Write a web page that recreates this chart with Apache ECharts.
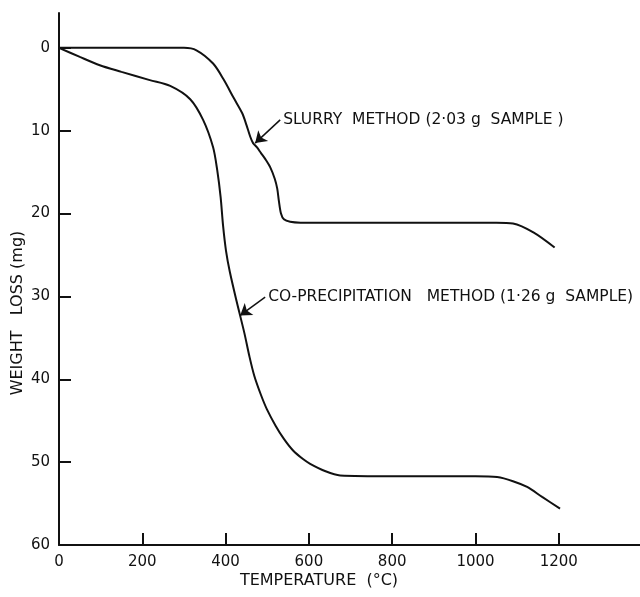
<!DOCTYPE html>
<html>
<head>
<meta charset="utf-8">
<script src="https://cdn.jsdelivr.net/npm/echarts@6/dist/echarts.min.js"></script>
<style>
    html, body { margin: 0; padding: 0; background: #fff; }
    #chart { width: 640px; height: 597px; }
</style>
</head>
<body>
<div id="chart"></div>
<script>
    var tempTicks = [0, 200, 400, 600, 800, 1000, 1200];
    var lossTicks = [0, 10, 20, 30, 40, 50, 60];

    // slurry method (2.03 g)
    var slurryTemp = [0, 100, 200, 300, 330, 370, 395, 420, 440, 450, 459, 466, 475, 485, 495, 507, 518, 524, 528, 533, 540, 555, 580, 700, 900, 1050, 1090, 1140, 1190];
    var slurryLoss = [0, 0, 0, 0, 0.3, 1.9, 3.8, 6.1, 7.9, 9.3, 10.7, 11.5, 12.0, 12.7, 13.4, 14.4, 15.8, 17.0, 18.5, 20.0, 20.7, 21.0, 21.1, 21.1, 21.1, 21.1, 21.2, 22.3, 24.1];

    // co-precipitation method (1.26 g)
    var coprecTemp = [0, 50, 98, 150, 218, 267, 315, 346, 370, 380, 388, 394, 401, 410, 426, 445, 457, 469, 485, 499, 520, 540, 562, 585, 603, 640, 675, 800, 1000, 1052, 1090, 1124, 1160, 1203];
    var coprecLoss = [0, 1.1, 2.1, 2.9, 3.9, 4.6, 6.2, 8.7, 12.0, 14.8, 18.0, 21.5, 24.5, 27.0, 30.5, 34.4, 37.2, 39.6, 41.9, 43.6, 45.6, 47.2, 48.6, 49.6, 50.2, 51.1, 51.6, 51.7, 51.7, 51.8, 52.3, 53.0, 54.2, 55.6];

    var slurryLabel = 'SLURRY  METHOD (2·03 g  SAMPLE )';
    var coprecLabel = 'CO-PRECIPITATION   METHOD (1·26 g  SAMPLE)';
    // arrow start / arrow tip (data units)
    var slurryNote = [[531, 8.7], [471, 11.5]];
    var coprecNote = [[495, 30.1], [435, 32.3]];

    var ink = '#111';
    var font = 'DejaVu Sans';

    function pairs(xs, ys) {
        var out = [];
        for (var i = 0; i < xs.length; i++) {
            out.push([xs[i], ys[i]]);
        }
        return out;
    }

    function curve(name, xs, ys, note, text) {
        return {
            name: name,
            type: 'line',
            data: pairs(xs, ys),
            smooth: 0.3,
            showSymbol: false,
            lineStyle: { color: ink, width: 2 },
            silent: true,
            markLine: {
                silent: true,
                symbol: ['none', 'arrow'],
                symbolSize: 11,
                lineStyle: { color: ink, width: 1.5, type: 'solid' },
                itemStyle: { color: ink },
                label: { show: false },
                data: [[{ coord: note[0] }, { coord: note[1] }]]
            },
            markPoint: {
                silent: true,
                symbol: 'circle',
                symbolSize: 0,
                label: {
                    show: true,
                    position: 'right',
                    distance: 3,
                    color: ink,
                    fontFamily: font,
                    fontSize: 15.5,
                    formatter: text
                },
                data: [{ coord: note[0] }]
            }
        };
    }

    var chart = echarts.init(document.getElementById('chart'));
    chart.setOption({
        animation: false,
        backgroundColor: '#fff',
        grid: { left: 59, right: 0, top: 13, bottom: 52 },
        xAxis: {
            type: 'value',
            position: 'bottom',
            min: 0,
            max: 1395,
            axisLine: { onZero: false, lineStyle: { color: ink, width: 2 } },
            axisTick: { inside: true, length: 12, customValues: tempTicks, lineStyle: { color: ink, width: 2 } },
            axisLabel: {
                customValues: tempTicks, margin: 10, color: ink, fontFamily: font, fontSize: 15,
                formatter: function (v) { return String(v); }
            },
            splitLine: { show: false }
        },
        yAxis: {
            type: 'value',
            inverse: true,
            min: -4.2,
            max: 60,
            axisLine: { show: true, onZero: false, lineStyle: { color: ink, width: 2 } },
            axisTick: { show: true, inside: true, length: 12, customValues: lossTicks, lineStyle: { color: ink, width: 2 } },
            axisLabel: { customValues: lossTicks, margin: 9, color: ink, fontFamily: font, fontSize: 15 },
            splitLine: { show: false }
        },
        graphic: [
            {
                type: 'text',
                x: 319, y: 581,
                style: { text: 'TEMPERATURE  (°C)', fill: ink, font: '16px "' + font + '"', align: 'center', verticalAlign: 'middle' }
            },
            {
                type: 'text',
                x: 18, y: 313,
                rotation: Math.PI / 2,
                style: { text: 'WEIGHT   LOSS (mg)', fill: ink, font: '16px "' + font + '"', align: 'center', verticalAlign: 'middle' }
            }
        ],
        series: [
            curve('Slurry', slurryTemp, slurryLoss, slurryNote, slurryLabel),
            curve('Co-precipitation', coprecTemp, coprecLoss, coprecNote, coprecLabel)
        ]
    });
</script>
</body>
</html>
